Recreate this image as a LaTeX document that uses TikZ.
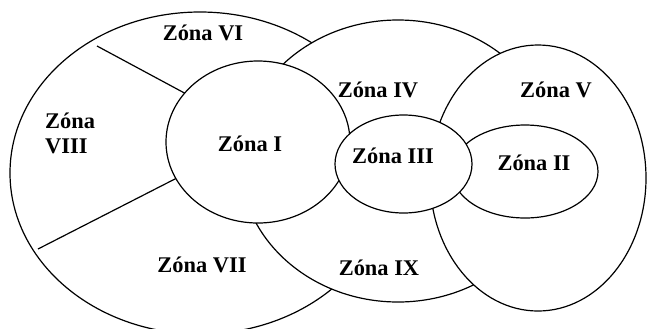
\documentclass[tikz,border=0pt]{standalone}
\usepackage{fontspec}
\setmainfont{Liberation Serif}
\begin{document}
\begin{tikzpicture}[x=1bp,y=-1bp,
  zone/.style={draw=black,line width=1.2bp,fill=white},
  divider/.style={draw=black,line width=1.2bp},
  lbl/.style={font=\fontsize{22.5}{25}\selectfont\bfseries,inner sep=0pt,anchor=base}]
\useasboundingbox (0,0) rectangle (647,328);
\clip (0,0) rectangle (647,328);
\fill[white] (0,0) rectangle (647,328);

% outer ring: zones VI, VII, VIII
\draw[zone] (200,173) ellipse [x radius=190bp, y radius=161bp];
\draw[divider] (97,46) -- (190,96);
\draw[divider] (38,249) -- (180,176.4);

% ring around zone III: zones IV and IX
\draw[zone] (398,161) ellipse [x radius=158bp, y radius=141bp];
% zone V
\draw[zone] (538,178) ellipse [x radius=108bp, y radius=133bp];
% zone I
\draw[zone] (258,142) ellipse [x radius=92bp, y radius=81bp];
% zone II
\draw[zone] (525,171.5) ellipse [x radius=73bp, y radius=46.5bp];
% zone III
\draw[zone] (403.5,164) ellipse [x radius=68.5bp, y radius=49bp];

% labels
\node[lbl] (z6) at (203,40) {Zóna VI};
\node[lbl] (z1) at (250,151) {Zóna I};
\node[lbl,anchor=base west,align=left] (z8) at (45,153) {Zóna\\VIII};
\node[lbl] (z7) at (202,272) {Zóna VII};
\node[lbl] (z4) at (378,97) {Zóna IV};
\node[lbl] (z5) at (556,97) {Zóna V};
\node[lbl] (z3) at (393,163) {Zóna III};
\node[lbl] (z2) at (534,170) {Zóna II};
\node[lbl] (z9) at (379,275) {Zóna IX};
\end{tikzpicture}
\end{document}
